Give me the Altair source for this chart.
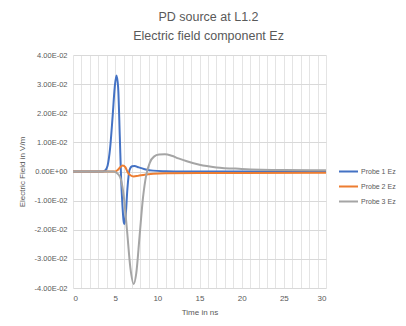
import altair as alt
import pandas as pd

t1 = [0, 3.5, 3.8, 4.1, 4.4, 4.7, 4.95, 5.15, 5.35, 5.55, 5.7, 5.85, 6.0, 6.1, 6.25, 6.45, 6.7, 7.0, 7.3, 7.8, 8.5, 9.5, 11, 13, 30]
v1 = [0, 0, 0.0003, 0.002, 0.008, 0.019, 0.029, 0.033, 0.029, 0.012, -0.002, -0.011, -0.017, -0.018, -0.015, -0.006, 0.0005, 0.0018, 0.0019, 0.0014, 0.0008, 0.0003, 0.0001, 0, 0]

t2 = [0, 5.0, 5.3, 5.6, 5.9, 6.2, 6.5, 6.8, 7.2, 7.7, 8.5, 9.5, 11, 15, 20, 30]
v2 = [0, 0, 0.0005, 0.0015, 0.0021, 0.0015, -0.0003, -0.0013, -0.0017, -0.0015, -0.0011, -0.0008, -0.0006, -0.0005, -0.0005, -0.0004]

t3 = [0, 4.8, 5.2, 5.6, 6.0, 6.4, 6.8, 7.2, 7.5, 7.9, 8.3, 8.7, 9.1, 9.6, 10.2, 10.9, 11.7, 12.5, 13.5, 15, 17, 20, 25, 30]
v3 = [0, 0, -0.0005, -0.002, -0.008, -0.02, -0.033, -0.0386, -0.035, -0.022, -0.009, -0.001, 0.003, 0.0051, 0.0058, 0.0059, 0.0054, 0.0045, 0.0035, 0.0023, 0.0014, 0.0009, 0.0005, 0.0004]

series = ["Probe 1 Ez", "Probe 2 Ez", "Probe 3 Ez"]
colors = ["#4472C4", "#ED7D31", "#A5A5A5"]

frames = []
for name, t, v in zip(series, [t1, t2, t3], [v1, v2, v3]):
    frames.append(pd.DataFrame({"t": t, "v": v, "s": name}))
df = pd.concat(frames, ignore_index=True)

FONT = "Liberation Sans"
GREY = "#595959"

x_ticks = list(range(0, 31))
y_ticks = [-0.04, -0.03, -0.02, -0.01, 0, 0.01, 0.02, 0.03, 0.04]

lines = alt.Chart(df).mark_line(strokeWidth=2, interpolate="monotone").encode(
    x=alt.X("t:Q", scale=alt.Scale(domain=[0, 30], nice=False),
            axis=alt.Axis(values=x_ticks, title="Time in ns",
                          labelExpr="datum.value % 5 == 0 ? datum.value : ''",
                          domain=False, ticks=False, labelFontSize=8, labelColor=GREY,
                          labelFont=FONT, titleFont=FONT, titleFontSize=8, titleColor=GREY,
                          titleFontWeight="normal", labelPadding=6, titlePadding=6,
                          gridColor="#E4E4E4")),
    y=alt.Y("v:Q", scale=alt.Scale(domain=[-0.04, 0.04], nice=False),
            axis=alt.Axis(values=y_ticks, title="Electric Field in V/m",
                          labelExpr="replace(replace(replace(format(datum.value, '.2e'), 'e-', 'E-0'), 'e+', 'E+0'), '\u2212', '-')",
                          domain=False, ticks=False, labelFontSize=7.5, labelColor=GREY,
                          labelFont=FONT, titleFont=FONT, titleFontSize=8, titleColor=GREY,
                          titleFontWeight="normal", labelPadding=6, titlePadding=8,
                          gridColor="#D9D9D9")),
    color=alt.Color("s:N", scale=alt.Scale(domain=series, range=colors),
                    legend=alt.Legend(title=None, orient="none", legendX=265, legendY=109,
                                      symbolType="stroke", symbolStrokeWidth=2, symbolSize=361,
                                      labelFontSize=7, labelFont=FONT, labelColor=GREY,
                                      clipHeight=15, rowPadding=0, labelOffset=2, labelLimit=200)),
)

chart = lines.properties(
    width=253, height=233,
    title=alt.TitleParams(["PD source at L1.2", "Electric field component Ez"],
                          font=FONT, fontSize=12.5, fontWeight="normal", color=GREY,
                          anchor="middle", lineHeight=19, offset=9, dx=9),
    autosize=alt.AutoSizeParams(type="none"),
    padding={"left": 65, "top": 47, "right": 72, "bottom": 30},
).configure_view(stroke=None)

chart.save("out.html", embed_options={"renderer": "svg", "actions": False})
